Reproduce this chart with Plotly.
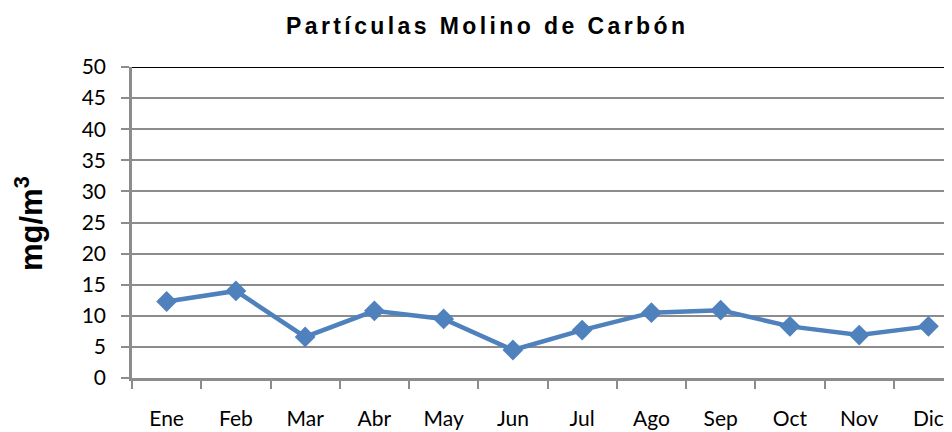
import plotly.graph_objects as go

# monthly values (mg/m3)
months = ["Ene", "Feb", "Mar", "Abr", "May", "Jun", "Jul", "Ago", "Sep", "Oct", "Nov", "Dic"]
particles = [12.3, 14.0, 6.6, 10.8, 9.5, 4.5, 7.7, 10.5, 10.9, 8.3, 6.9, 8.3]
y_ticks = list(range(0, 55, 5))

BLUE = "#4F81BD"
GRID = "#8C8C8C"

# the page body has an 8px margin, so the figure is 8px smaller than the window
W, H = 944, 424
LEFT, RIGHT, TOP, BOTTOM = 124, 0, 59, 54
plot_w = W - LEFT - RIGHT
plot_h = H - TOP - BOTTOM

fig = go.Figure()
fig.add_trace(go.Scatter(
    x=months,
    y=particles,
    mode="lines+markers",
    line=dict(color=BLUE, width=4.5),
    marker=dict(symbol="diamond", size=16, color=BLUE),
    showlegend=False,
    hoverinfo="x+y",
))

fig.update_layout(
    width=W,
    height=H,
    margin=dict(l=LEFT, r=RIGHT, t=TOP, b=BOTTOM, pad=0),
    paper_bgcolor="white",
    plot_bgcolor="white",
    font=dict(family="Lato, 'DejaVu Sans', sans-serif", size=21, color="#000000"),
    xaxis=dict(
        type="category",
        range=[-0.5, 11.34],
        showgrid=False,
        showline=True,
        linecolor=GRID,
        linewidth=2.5,
        ticks="outside",
        tickson="boundaries",
        ticklen=8,
        tickwidth=1.5,
        tickcolor=GRID,
        ticklabelstandoff=20,
        zeroline=False,
    ),
    yaxis=dict(
        range=[0, 50],
        tickvals=y_ticks,
        showgrid=True,
        gridcolor=GRID,
        gridwidth=1.5,
        showline=True,
        linecolor=GRID,
        linewidth=2.5,
        ticks="outside",
        ticklen=8,
        tickwidth=1.5,
        tickcolor=GRID,
        ticklabelstandoff=11,
        zeroline=False,
    ),
)

# black top border of the plot area
fig.add_shape(type="line", xref="paper", yref="y", x0=0, x1=1, y0=50, y1=50,
              line=dict(color="black", width=2))

# chart title (the original is letter-spaced)
fig.add_annotation(
    text='<span style="letter-spacing:3.4px"><b>Partículas Molino de Carbón</b></span>',
    xref="paper", yref="paper",
    x=(478.7 - LEFT) / plot_w, y=1 + (TOP - 18) / plot_h,
    xanchor="center", yanchor="middle", showarrow=False,
    font=dict(family="Liberation Sans, Arial, sans-serif", size=23, color="black"),
)

# y axis title
fig.add_annotation(
    text="<b>mg/m<sup>3</sup></b>",
    xref="paper", yref="paper",
    x=(21 - LEFT) / plot_w, y=1 - (216 - TOP) / plot_h,
    xanchor="center", yanchor="middle", showarrow=False, textangle=-90,
    font=dict(family="Liberation Sans, Arial, sans-serif", size=31, color="black"),
)

fig.write_html("out.html")
